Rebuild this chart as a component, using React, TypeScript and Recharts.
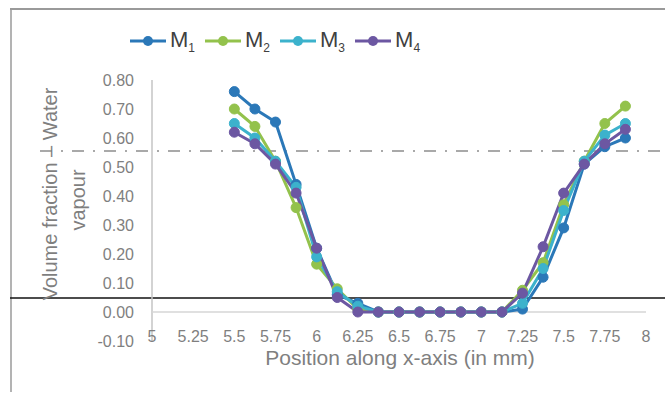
import { LineChart, Line, XAxis, YAxis, ReferenceLine } from 'recharts'

// position along x-axis (mm)
const positions = [
  5.5, 5.625, 5.75, 5.875, 6.0, 6.125, 6.25, 6.375, 6.5, 6.625,
  6.75, 6.875, 7.0, 7.125, 7.25, 7.375, 7.5, 7.625, 7.75, 7.875,
]

// volume fraction of water vapour, one list per case
const m1 = [0.76, 0.7, 0.655, 0.44, 0.22, 0.06, 0.03, 0, 0, 0, 0, 0, 0, 0, 0.01, 0.12, 0.29, 0.51, 0.57, 0.6]
const m2 = [0.7, 0.64, 0.52, 0.36, 0.165, 0.08, 0.01, 0, 0, 0, 0, 0, 0, 0, 0.075, 0.17, 0.37, 0.52, 0.65, 0.71]
const m3 = [0.65, 0.6, 0.52, 0.43, 0.19, 0.07, 0.02, 0, 0, 0, 0, 0, 0, 0, 0.03, 0.15, 0.35, 0.52, 0.61, 0.65]
const m4 = [0.62, 0.58, 0.51, 0.41, 0.22, 0.05, 0, 0, 0, 0, 0, 0, 0, 0, 0.065, 0.225, 0.41, 0.51, 0.58, 0.63]

const xTicks = [5, 5.25, 5.5, 5.75, 6, 6.25, 6.5, 6.75, 7, 7.25, 7.5, 7.75, 8]
const yTicks = [-0.1, 0, 0.1, 0.2, 0.3, 0.4, 0.5, 0.6, 0.7, 0.8]

const series = [
  { key: 'm1', sub: '1', color: '#2b78b8', values: m1 },
  { key: 'm2', sub: '2', color: '#93c24c', values: m2 },
  { key: 'm3', sub: '3', color: '#3cb2cc', values: m3 },
  { key: 'm4', sub: '4', color: '#6c57a2', values: m4 },
]

const data = positions.map((x, i) => {
  const row: Record<string, number> = { x }
  series.forEach((s) => {
    row[s.key] = s.values[i]
  })
  return row
})

const FONT = '"Liberation Sans", Arial, sans-serif'
const GREY = '#7f7f7f'

const renderXTick = (props: any) => {
  const { x, y, payload } = props
  return (
    <text x={x} y={y - 5} textAnchor="middle" dominantBaseline="central" fill={GREY} fontSize={16} fontFamily={FONT}>
      {String(payload.value)}
    </text>
  )
}

function Legend() {
  return (
    <div
      style={{
        position: 'absolute',
        top: 27,
        left: 130,
        display: 'flex',
        alignItems: 'center',
        fontFamily: FONT,
        color: '#404040',
        zIndex: 2,
      }}
    >
      {series.map((s) => (
        <div key={s.key} style={{ display: 'flex', alignItems: 'center', marginRight: 10 }}>
          <svg width={36} height={26}>
            <line x1={0} y1={13} x2={36} y2={13} stroke={s.color} strokeWidth={3} />
            <circle cx={18} cy={13} r={5} fill={s.color} />
          </svg>
          <span style={{ fontSize: 22, marginLeft: 4 }}>
            M<sub style={{ fontSize: 12 }}>{s.sub}</sub>
          </span>
        </div>
      ))}
    </div>
  )
}

export default function App() {
  return (
    <div style={{ position: 'absolute', left: 0, top: 0, width: 665, height: 394, background: '#fff' }}>
      {/* frame lines from the scanned source */}
      <svg width={665} height={394} style={{ position: 'absolute', left: 0, top: 0 }}>
        <line x1={10} y1={9} x2={665} y2={9} stroke="#9a9a9a" strokeWidth={2} />
        <line x1={11} y1={9} x2={11} y2={392} stroke="#9a9a9a" strokeWidth={1.5} />
        <line x1={40} y1={151} x2={665} y2={151} stroke="#555" strokeWidth={1.2} strokeDasharray="12 9 2 9" />
        <line x1={10} y1={298} x2={665} y2={298} stroke="#111" strokeWidth={1.5} />
      </svg>
      <div style={{ position: 'absolute', left: 0, top: 0, zIndex: 1 }}>
        <LineChart width={665} height={394} data={data} margin={{ top: 80, right: 19, bottom: 23, left: 0 }}>
          <XAxis
            dataKey="x"
            type="number"
            domain={[5, 8]}
            ticks={xTicks}
            axisLine={false}
            tickLine={false}
            tickSize={0}
            tickMargin={0}
            height={30}
            tick={renderXTick}
            interval={0}
          />
          <YAxis
            type="number"
            domain={[-0.1, 0.8]}
            ticks={yTicks}
            width={152}
            axisLine={false}
            tickLine={false}
            tickSize={0}
            tickMargin={18}
            interval={0}
            tickFormatter={(v: number) => v.toFixed(2)}
            tick={{ fill: GREY, fontSize: 16, fontFamily: FONT }}
          />
          <ReferenceLine x={5} stroke="#c4c4c4" strokeWidth={1.5} />
          <ReferenceLine y={0} stroke="#d6d6d6" strokeWidth={1.5} />
          {series.map((s) => (
            <Line
              key={s.key}
              dataKey={s.key}
              stroke={s.color}
              strokeWidth={3}
              dot={{ r: 5, fill: s.color, stroke: s.color, strokeWidth: 1 }}
              isAnimationActive={false}
            />
          ))}
        </LineChart>
      </div>
      <svg width={665} height={394} style={{ position: 'absolute', left: 0, top: 0, zIndex: 2, pointerEvents: 'none' }}>
        <text
          transform="translate(50,194) rotate(-90)"
          textAnchor="middle"
          dominantBaseline="central"
          fill={GREY}
          fontSize={20}
          fontFamily={FONT}
        >
          Volume fraction – Water
        </text>
        <text
          transform="translate(78,200) rotate(-90)"
          textAnchor="middle"
          dominantBaseline="central"
          fill={GREY}
          fontSize={20}
          fontFamily={FONT}
        >
          vapour
        </text>
        <text x={400} y={357} textAnchor="middle" dominantBaseline="central" fill={GREY} fontSize={21} fontFamily={FONT}>
          Position along x-axis (in mm)
        </text>
      </svg>
      <Legend />
    </div>
  )
}
